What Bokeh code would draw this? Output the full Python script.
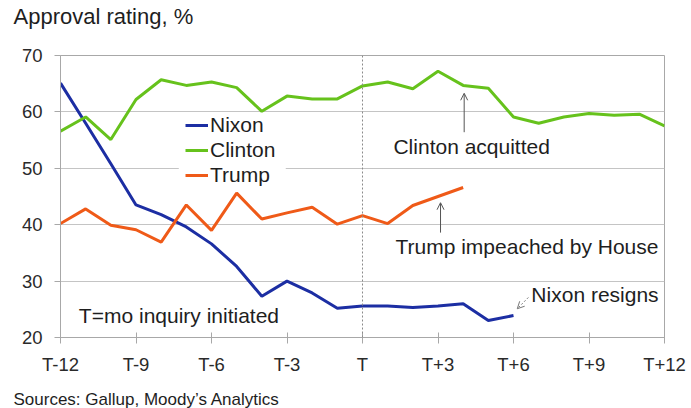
from bokeh.plotting import figure
from bokeh.models import (FixedTicker, Label, Span, Arrow, OpenHead, BoxAnnotation,
                          Legend, LegendItem, Title)
from bokeh.embed import file_html
from bokeh.resources import INLINE

# Months relative to the start of the impeachment inquiry (T)
months = list(range(-12, 13))
nixon_months = list(range(-12, 7))
trump_months = list(range(-12, 5))

# Approval ratings, %
clinton = [56.6, 59.1, 55.1, 62.2, 65.7, 64.7, 65.3, 64.3, 60.1, 62.8, 62.3, 62.3,
           64.6, 65.3, 64.1, 67.2, 64.7, 64.2, 59.1, 58.0, 59.1, 59.7, 59.4, 59.6, 57.5]
nixon = [65.1, 58.0, 50.8, 43.5, 41.8, 39.6, 36.6, 32.6, 27.3, 30.0, 27.9, 25.2,
         25.6, 25.6, 25.3, 25.6, 26.0, 23.0, 23.9]
trump = [40.2, 42.8, 39.9, 39.1, 36.9, 43.5, 39.0, 45.6, 41.0, 42.1, 43.1, 40.1,
         41.6, 40.2, 43.4, 45.0, 46.6]

x_ticks = [-12, -9, -6, -3, 0, 3, 6, 9, 12]
x_tick_labels = ["T-12", "T-9", "T-6", "T-3", "T", "T+3", "T+6", "T+9", "T+12"]
y_ticks = [20, 30, 40, 50, 60, 70]

FONT = "Liberation Sans"
NIXON_C = "#1c2ea3"
CLINTON_C = "#66c21c"
TRUMP_C = "#ef5a18"
TEXT_C = "#1e1e1e"
GRID_C = "#c4c4c4"

p = figure(width=691, height=408, x_range=(-12, 12), y_range=(20, 70),
           output_backend="svg", toolbar_location=None,
           min_border_left=60, min_border_right=27, min_border_top=55, min_border_bottom=70)
p.background_fill_color = "white"
p.border_fill_color = "white"
p.outline_line_color = "#a8a8a8"
p.outline_line_width = 1


def gap(px):
    """Blank title used purely as vertical padding between side panels."""
    return Title(text=" ", text_font_size="1px", standoff=px)


# heading (padding panel sits between it and the frame)
p.add_layout(gap(24), "above")
p.add_layout(Title(text="Approval rating, %", align="left", offset=-47,
                   text_font=FONT, text_font_size="22px", text_font_style="normal",
                   text_color=TEXT_C, standoff=0, vertical_align="bottom"), "above")

# source line under the axis
p.add_layout(gap(7), "below")
p.add_layout(Title(text="Sources: Gallup,  Moody\u2019s Analytics", align="left", offset=-47,
                   text_font=FONT, text_font_size="17px", text_font_style="normal",
                   text_color=TEXT_C, standoff=0, vertical_align="bottom"), "below")

# axes
p.xaxis.ticker = FixedTicker(ticks=x_ticks)
p.xaxis.major_label_overrides = {t: l for t, l in zip(x_ticks, x_tick_labels)}
p.yaxis.ticker = FixedTicker(ticks=y_ticks)
for ax in (p.xaxis, p.yaxis):
    ax.axis_line_color = "#a8a8a8"
    ax.axis_line_width = 1
    ax.major_tick_line_color = "#a8a8a8"
    ax.minor_tick_line_color = None
    ax.major_label_text_font = FONT
    ax.major_label_text_font_size = "18.5px"
    ax.major_label_text_color = "#2a2a2a"
p.xaxis.major_tick_in = 5
p.xaxis.major_tick_out = 6
p.xaxis.major_label_standoff = 10
p.yaxis.major_tick_in = 0
p.yaxis.major_tick_out = 6
p.yaxis.major_label_standoff = 12

p.xgrid.grid_line_color = None
p.ygrid.grid_line_color = GRID_C
p.ygrid.grid_line_width = 1.2

# month T marker
p.add_layout(Span(location=0, dimension="height", line_color="#8a8a8a",
                  line_width=1, line_dash="2 2"))

# clear band behind the legend
p.add_layout(BoxAnnotation(left=-7.3, right=-3.05, bottom=46.2, top=58.5,
                           fill_color="white", fill_alpha=1, line_color=None,
                           level="underlay"))

r_nixon = p.line(nixon_months, nixon, line_color=NIXON_C, line_width=3)
r_clinton = p.line(months, clinton, line_color=CLINTON_C, line_width=3)
r_trump = p.line(trump_months, trump, line_color=TRUMP_C, line_width=3)

legend = Legend(items=[LegendItem(label="Nixon", renderers=[r_nixon]),
                       LegendItem(label="Clinton", renderers=[r_clinton]),
                       LegendItem(label="Trump", renderers=[r_trump])],
                location=(125, 150), orientation="vertical",
                background_fill_alpha=0, border_line_color=None,
                label_text_font=FONT, label_text_font_size="21px",
                label_text_color=TEXT_C, glyph_width=23, glyph_height=20,
                label_height=20, label_standoff=2, spacing=1, padding=2, margin=0)
p.add_layout(legend, "center")


def note(x, y, text, size="21px"):
    p.add_layout(Label(x=x, y=y, text=text, text_font=FONT, text_font_size=size,
                       text_color=TEXT_C, text_baseline="middle", text_align="left"))


note(-11.27, 23.9, "T=mo inquiry initiated")
note(1.23, 53.9, "Clinton acquitted")
note(1.31, 36.1, "Trump impeached by House")
note(6.71, 27.6, "Nixon resigns")

# annotation arrows
p.add_layout(Arrow(x_start=4.04, y_start=56.4, x_end=4.04, y_end=63.3,
                   line_color="#555555", line_width=1,
                   end=OpenHead(size=7, line_color="#555555", line_width=1)))
p.add_layout(Arrow(x_start=3.1, y_start=38.6, x_end=3.1, y_end=43.9,
                   line_color="#555555", line_width=1,
                   end=OpenHead(size=7, line_color="#555555", line_width=1)))
p.add_layout(Arrow(x_start=6.59, y_start=27.1, x_end=6.15, y_end=25.1,
                   line_color="#777777", line_width=1, line_dash="2 2",
                   end=OpenHead(size=7, line_color="#777777", line_width=1)))

open("out.html", "w").write(file_html(p, INLINE))
